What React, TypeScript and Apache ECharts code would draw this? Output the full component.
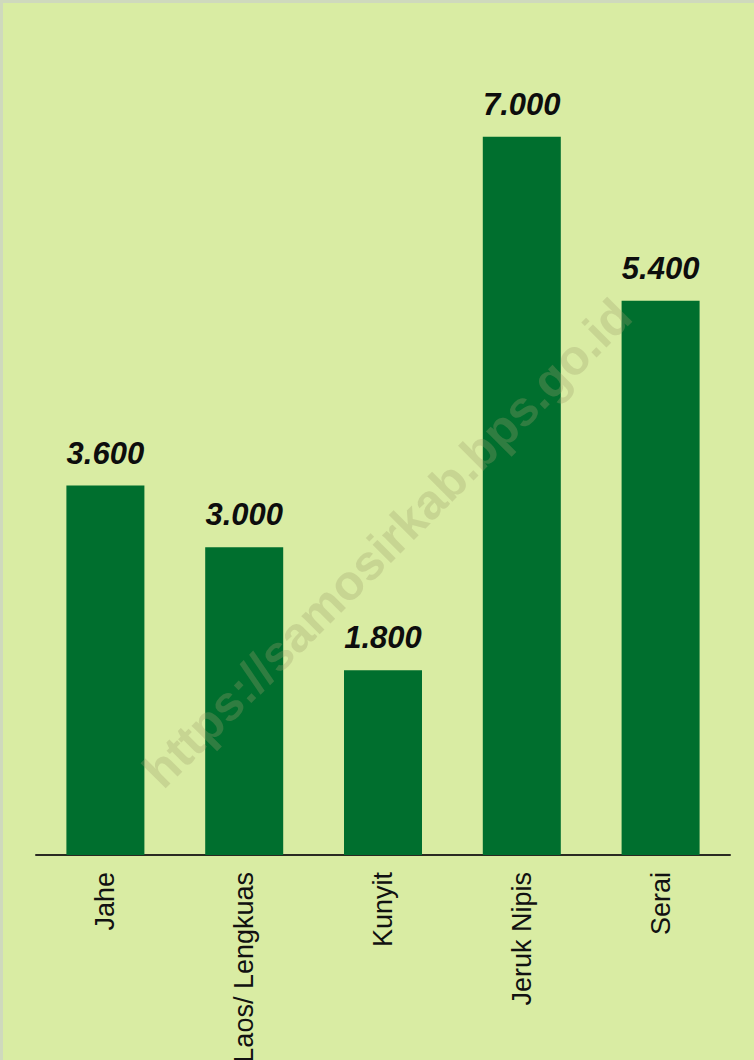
import React, { useEffect, useRef } from "react";
import * as echarts from "echarts";

const categories = ["Jahe", "Laos/ Lengkuas", "Kunyit", "Jeruk Nipis", "Serai"];
const values = [3600, 3000, 1800, 7000, 5400];
const valueLabels = ["3.600", "3.000", "1.800", "7.000", "5.400"];
const watermark = "https://samosirkab.bps.go.id";

export default function App() {
  const ref = useRef<HTMLDivElement>(null);
  useEffect(() => {
    const chart = echarts.init(ref.current!, null, { renderer: "svg" });
    chart.setOption({
      animation: false,
      backgroundColor: "#d9eca3",
      grid: {
        left: 36,
        right: 24,
        top: 34,
        bottom: 205,
        containLabel: false,
        outerBoundsMode: "none",
      },
      xAxis: {
        type: "category",
        data: categories,
        axisLine: { show: true, lineStyle: { color: "#2a2a22", width: 2 } },
        axisTick: { show: false },
        axisLabel: {
          rotate: 90,
          margin: 17,
          fontSize: 27,
          color: "#111111",
          fontFamily: "Liberation Sans, Arial, sans-serif",
          interval: 0,
        },
      },
      yAxis: {
        type: "value",
        min: 0,
        max: 8000,
        show: false,
        splitLine: { show: false },
      },
      series: [
        {
          type: "bar",
          data: values,
          barWidth: 78,
          itemStyle: { color: "#006f2e" },
          label: {
            show: true,
            position: "top",
            distance: 17,
            formatter: (p: any) => valueLabels[p.dataIndex],
            fontSize: 31,
            fontWeight: "bold",
            fontStyle: "italic",
            color: "#0d0d0d",
            fontFamily: "Liberation Sans, Arial, sans-serif",
          },
        },
      ],
      graphic: [
        { type: "rect", left: 0, top: 0, shape: { width: 754, height: 3 }, style: { fill: "#cfd9bd" }, z: 0 },
        { type: "rect", left: 0, top: 0, shape: { width: 3, height: 1060 }, style: { fill: "#cfd9bd" }, z: 0 },
        {
          type: "text",
          x: 387,
          y: 543,
          rotation: Math.PI / 4,
          z: 100,
          style: {
            text: watermark,
            x: 0,
            y: 0,
            align: "center",
            verticalAlign: "middle",
            font: "bold 49px 'Liberation Sans', Arial, sans-serif",
            fill: "rgba(160,160,110,0.3)",
          },
        },
      ],
    });
    return () => chart.dispose();
  }, []);
  return (
    <div
      ref={ref}
      style={{ position: "absolute", left: 0, top: 0, width: 754, height: 1060 }}
    />
  );
}
